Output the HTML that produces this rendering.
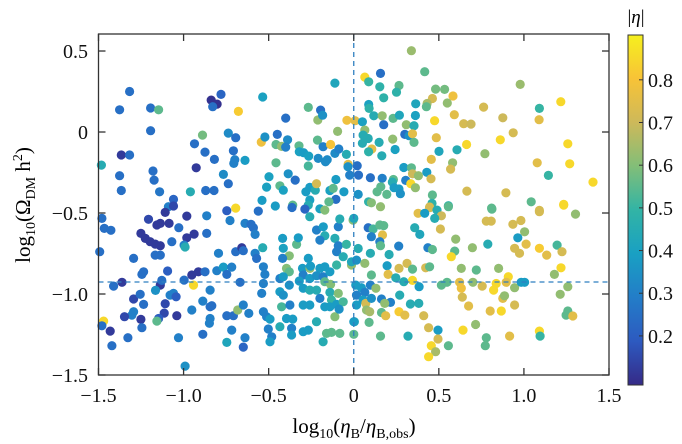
<!DOCTYPE html>
<html><head><meta charset="utf-8"><style>
html,body{margin:0;padding:0;background:#fff;}
svg{display:block;font-family:"Liberation Serif",serif;}
</style></head><body>
<svg id="chart" width="682" height="444" viewBox="0 0 682 444" xmlns="http://www.w3.org/2000/svg">
<defs>
<linearGradient id="parula" x1="0" y1="1" x2="0" y2="0">
<stop offset="0" stop-color="#352a87"/><stop offset="0.125" stop-color="#2d5ac0"/>
<stop offset="0.25" stop-color="#237dc8"/><stop offset="0.375" stop-color="#19a0c3"/>
<stop offset="0.5" stop-color="#32b4a5"/><stop offset="0.625" stop-color="#82be78"/>
<stop offset="0.75" stop-color="#cdb95a"/><stop offset="0.875" stop-color="#f8c337"/>
<stop offset="1" stop-color="#f5f01e"/>
</linearGradient>
</defs>
<g id="points"></g>
<g id="axes"></g>
<text x="354" y="433" font-size="21" text-anchor="middle">log<tspan font-size="14" dy="5">10</tspan><tspan dy="-5">(</tspan><tspan font-style="italic">η</tspan><tspan font-size="14" dy="5">B</tspan><tspan dy="-5">/</tspan><tspan font-style="italic">η</tspan><tspan font-size="14" dy="5">B,obs</tspan><tspan dy="-5">)</tspan></text>
<text transform="translate(30,205) rotate(-90)" font-size="21" text-anchor="middle">log<tspan font-size="14" dy="5">10</tspan><tspan dy="-5">(Ω</tspan><tspan font-size="14" dy="5">DM</tspan><tspan dy="-5"> h</tspan><tspan font-size="14" dy="-8">2</tspan><tspan dy="8">)</tspan></text>
<g>
<rect x="628" y="35" width="15" height="350" fill="url(#parula)" stroke="#333" stroke-width="1"/>
<g id="cbticks"></g>
<text x="636" y="23" font-size="19" text-anchor="middle">|<tspan font-style="italic">η</tspan>|</text>
</g>
</svg>
<script>
// [log10(etaB/etaB,obs), log10(Omega h^2), |eta|]
const xTicks = [-1.5,-1.0,-0.5,0,0.5,1.0,1.5];
const xTickLabels = ["−1.5","−1.0","−0.5","0","0.5","1.0","1.5"];
const yTicks = [-1.5,-1.0,-0.5,0,0.5];
const yTickLabels = ["−1.5","−1.0","−0.5","0","0.5"];
const cTicks = [0.2,0.3,0.4,0.5,0.6,0.7,0.8];
const cTickLabels = ["0.2","0.3","0.4","0.5","0.6","0.7","0.8"];
const refX = 0;
const refY = -0.926;
const points = [
[-1.317,0.250,.25],[-1.376,0.137,.25],[-1.194,0.148,.25],[-1.147,0.137,.55],[-1.194,0.008,.25],[-1.366,-0.142,.12],[-1.317,-0.142,.25],[-1.483,-0.204,.45],[-1.376,-0.270,.25],[-1.366,-0.361,.25],
[-1.180,-0.241,.25],[-1.173,-0.297,.25],[-1.141,-0.369,.27],[-1.059,-0.416,.22],[-1.089,-0.461,.3],[-1.059,-0.457,.15],[-0.838,0.197,.1],[-0.803,0.172,.1],[-0.780,0.232,.22],[-0.829,0.156,.25],
[-0.678,0.127,.82],[-0.535,0.216,.4],[-0.889,-0.019,.58],[-0.936,-0.073,.25],[-0.874,-0.124,.25],[-0.819,-0.169,.25],[-0.926,-0.221,.12],[-0.960,-0.369,.45],[-0.870,-0.361,.25],[-0.821,-0.361,.25],
[-0.766,-0.262,.33],[-0.737,-0.319,.25],[-0.737,-0.007,.33],[-0.694,-0.035,.25],[-0.707,-0.116,.25],[-0.699,-0.171,.3],[-0.705,-0.194,.3],[-0.639,-0.175,.38],[-0.694,-0.470,.85],[-0.746,-0.486,.2],
[-0.543,-0.062,.78],[-0.522,-0.031,.35],[-0.449,-0.015,.25],[-0.389,-0.048,.33],[-0.400,0.086,.25],[-0.457,-0.077,.55],[-0.424,-0.089,.62],[-0.400,-0.093,.3],[-0.322,-0.085,.55],[-0.320,-0.122,.4],
[-0.295,-0.128,.38],[-0.265,-0.149,.4],[-0.267,0.152,.55],[-0.211,0.074,.62],[-0.195,0.135,.25],[-0.183,0.104,.35],[-0.213,-0.050,.55],[-0.180,-0.091,.3],[-0.136,-0.077,.8],[-0.095,0.004,.62],
[-0.111,0.302,.42],[-0.156,-0.171,.33],[-0.209,-0.163,.33],[-0.166,-0.184,.33],[-0.111,-0.132,.33],[-0.088,-0.105,.3],[-0.043,-0.138,.45],[-0.033,-0.200,.75],[-0.457,-0.190,.55],[-0.498,-0.276,.4],
[-0.385,-0.258,.35],[-0.344,-0.297,.25],[-0.267,-0.210,.52],[-0.434,-0.332,.55],[-0.414,-0.359,.4],[-0.512,-0.340,.4],[-0.281,-0.369,.38],[-0.258,-0.342,.38],[-0.226,-0.359,.45],[-0.219,-0.319,.72],
[-0.140,-0.361,.4],[-0.105,-0.293,.38],[-0.121,-0.348,.55],[-0.058,-0.369,.38],[-0.105,-0.416,.25],[-0.146,-0.431,.55],[-0.258,-0.420,.4],[-0.267,-0.451,.45],[-0.359,-0.451,.55],[-0.363,-0.466,.25],
[-0.461,-0.457,.38],[-0.539,-0.422,.38],[-0.561,-0.488,.25],[-0.287,-0.476,.22],[-0.199,-0.474,.4],[-0.170,-0.482,.6],[-0.040,0.072,.78],[-0.034,-0.214,.35],[-0.024,-0.266,.3],
[0.339,0.502,.63],[0.065,0.339,.85],[0.157,0.362,.25],[0.088,0.310,.5],[0.417,0.372,.55],[0.153,0.279,.48],[0.266,0.287,.55],[0.251,0.246,.48],[0.176,0.211,.48],[0.481,0.265,.58],
[0.534,0.263,.58],[0.583,0.222,.78],[0.462,0.207,.72],[0.431,0.176,.65],[0.550,0.179,.62],[0.088,0.170,.4],[0.090,0.146,.48],[0.364,0.174,.42],[0.427,0.156,.55],[0.978,0.294,.63],
[0.763,0.154,.72],[1.091,0.146,.5],[1.217,0.187,.85],[0.876,0.088,.7],[1.089,0.076,.75],[0.008,0.070,.75],[0.051,0.063,.4],[0.118,0.100,.45],[0.167,0.100,.62],[0.231,0.084,.55],
[0.268,0.104,.42],[0.362,0.102,.4],[0.176,0.045,.25],[0.065,0.012,.62],[0.309,0.045,.62],[0.354,0.039,.45],[0.300,-0.015,.25],[0.325,-0.023,.35],[0.345,-0.011,.75],[0.354,-0.064,.55],
[0.475,0.070,.85],[0.591,0.107,.75],[0.646,0.051,.72],[0.689,0.049,.7],[0.937,-0.005,.72],[0.485,-0.035,.75],[0.663,-0.077,.85],[0.861,-0.048,.85],[1.258,-0.073,.85],[0.229,-0.044,.62],
[0.149,-0.064,.45],[0.051,-0.070,.45],[0.085,-0.040,.45],[0.055,-0.019,.45],[0.106,-0.105,.75],[0.087,-0.122,.48],[0.243,-0.108,.4],[0.165,-0.147,.45],[0.501,-0.120,.42],[0.607,-0.110,.45],
[0.771,-0.134,.62],[0.456,-0.169,.75],[0.581,-0.190,.62],[0.569,-0.229,.72],[1.078,-0.190,.75],[1.269,-0.196,.85],[1.144,-0.268,.5],[1.406,-0.309,.85],[0.020,-0.208,.25],[0.028,-0.266,.25],
[0.098,-0.282,.25],[0.167,-0.286,.3],[0.233,-0.293,.55],[0.227,-0.309,.45],[0.294,-0.219,.38],[0.339,-0.221,.55],[0.345,-0.258,.7],[0.380,-0.270,.62],[0.429,-0.249,.38],[0.454,-0.289,.72],
[0.305,-0.299,.3],[0.335,-0.319,.85],[0.362,-0.344,.62],[0.237,-0.344,.38],[0.266,-0.352,.38],[0.274,-0.381,.35],[0.137,-0.369,.55],[0.159,-0.338,.55],[0.194,-0.385,.55],[0.026,-0.385,.35],
[0.087,-0.431,.48],[0.104,-0.437,.6],[0.157,-0.461,.62],[0.462,-0.389,.55],[0.460,-0.441,.48],[0.446,-0.463,.72],[0.556,-0.455,.48],[0.665,-0.365,.72],[0.894,-0.375,.72],[1.043,-0.431,.55],
[1.234,-0.447,.85],[0.810,-0.470,.55],[1.091,-0.484,.72],
[-1.480,-0.533,.25],[-1.466,-0.595,.25],[-1.427,-0.607,.25],[-1.493,-0.739,.25],[-1.206,-0.539,.15],[-1.157,-0.574,.12],[-1.137,-0.564,.12],[-1.085,-0.564,.12],[-1.108,-0.496,.12],[-0.981,-0.519,.12],
[-1.028,-0.591,.25],[-1.251,-0.626,.12],[-1.225,-0.657,.12],[-1.196,-0.677,.12],[-1.167,-0.692,.12],[-1.137,-0.702,.12],[-1.069,-0.677,.25],[-0.981,-0.653,.12],[-0.938,-0.630,.12],[-0.864,-0.626,.25],
[-0.864,-0.517,.3],[-0.727,-0.546,.3],[-0.997,-0.698,.3],[-0.991,-0.710,.45],[-1.167,-0.760,.25],[-1.137,-0.760,.25],[-1.294,-0.780,.25],[-0.795,-0.749,.3],[-0.694,-0.739,.25],[-0.658,-0.714,.12],
[-0.649,-0.733,.25],[-0.639,-0.564,.3],[-0.604,-0.570,.25],[-0.590,-0.591,.25],[-0.580,-0.632,.3],[-0.535,-0.714,.45],[-0.580,-0.749,.3],[-0.571,-0.780,.25],[-1.094,-0.858,.2],[-1.245,-0.879,.25],
[-1.235,-0.863,.25],[-1.362,-0.928,.12],[-1.411,-0.951,.25],[-1.137,-0.945,.12],[-1.128,-0.916,.25],[-1.165,-0.978,.35],[-0.997,-0.914,.25],[-0.952,-0.883,.12],[-0.913,-0.863,.12],[-0.874,-0.863,.25],
[-0.942,-0.945,.85],[-0.805,-0.856,.3],[-0.766,-0.834,.38],[-0.746,-0.879,.25],[-0.717,-0.834,.3],[-0.668,-0.928,.25],[-0.531,-0.832,.3],[-0.522,-0.879,.3],[-0.531,-0.935,.3],[-0.844,-0.976,.3],
[-1.294,-1.031,.15],[-1.255,-1.002,.25],[-1.235,-1.064,.25],[-1.079,-1.007,.3],[-1.059,-0.996,.3],[-1.044,-1.017,.2],[-1.108,-1.060,.15],[-1.114,-1.118,.15],[-1.147,-1.151,.2],[-1.157,-1.167,.55],
[-1.040,-1.134,.12],[-1.294,-1.109,.3],[-1.304,-1.130,.3],[-1.347,-1.140,.15],[-1.251,-1.157,.12],[-1.245,-1.208,.25],[-1.470,-1.167,.85],[-1.480,-1.196,.25],[-1.431,-1.229,.12],[-1.421,-1.319,.25],
[-1.327,-1.270,.25],[-1.030,-1.270,.3],[-0.991,-1.445,.35],[-0.952,-1.099,.3],[-0.887,-1.044,.3],[-0.844,-1.079,.25],[-0.844,-1.151,.3],[-0.848,-1.181,.3],[-0.834,-1.072,.25],[-0.887,-1.249,.25],
[-0.746,-1.134,.25],[-0.707,-1.134,.25],[-0.682,-1.099,.62],[-0.649,-1.068,.3],[-0.617,-1.120,.3],[-0.717,-1.223,.3],[-0.746,-1.299,.42],[-0.649,-1.328,.22],[-0.639,-1.270,.3],[-0.541,-0.996,.3],
[-0.531,-1.109,.3],[-0.512,-1.140,.3],[-0.492,-1.155,.38],[-0.502,-1.216,.3],[-0.482,-1.264,.3],[-0.492,-1.295,.38],[-0.418,-0.657,.38],[-0.414,-0.718,.4],[-0.379,-0.764,.6],[-0.336,-0.694,.55],
[-0.326,-0.653,.38],[-0.418,-0.780,.3],[-0.395,-0.842,.6],[-0.379,-0.863,.55],[-0.434,-0.904,.3],[-0.414,-0.893,.38],[-0.379,-0.945,.35],[-0.434,-0.986,.38],[-0.414,-1.007,.35],[-0.424,-1.079,.52],
[-0.375,-1.068,.3],[-0.301,-0.842,.38],[-0.257,-0.842,.62],[-0.297,-0.883,.3],[-0.320,-0.920,.38],[-0.267,-0.780,.38],[-0.254,-0.828,.38],[-0.219,-0.605,.3],[-0.179,-0.585,.38],[-0.170,-0.640,.45],
[-0.258,-0.523,.45],[-0.199,-0.667,.3],[-0.111,-0.657,.45],[-0.091,-0.585,.3],[-0.082,-0.537,.45],[-0.091,-0.702,.3],[-0.101,-0.739,.3],[-0.062,-0.770,.45],[-0.043,-0.694,.5],[-0.258,-0.904,.38],
[-0.199,-0.842,.38],[-0.170,-0.832,.38],[-0.219,-0.887,.35],[-0.180,-0.893,.3],[-0.140,-0.863,.38],[-0.101,-0.821,.5],[-0.170,-0.924,.55],[-0.136,-0.941,.6],[-0.297,-0.965,.38],[-0.258,-0.976,.45],
[-0.219,-0.976,.45],[-0.199,-1.027,.3],[-0.140,-0.990,.45],[-0.091,-0.996,.6],[-0.131,-1.037,.5],[-0.101,-1.064,.38],[-0.062,-1.048,.52],[-0.297,-1.068,.38],[-0.258,-1.068,.38],[-0.170,-1.079,.38],
[-0.140,-1.079,.38],[-0.111,-1.140,.6],[-0.086,-1.093,.35],[-0.395,-1.151,.38],[-0.359,-1.155,.38],[-0.434,-1.202,.45],[-0.365,-1.212,.3],[-0.365,-1.253,.38],[-0.297,-1.233,.38],[-0.267,-1.223,.38],
[-0.219,-1.171,.45],[-0.160,-1.243,.55],[-0.131,-1.237,.55],[-0.082,-1.243,.55],[-0.180,-1.295,.45],[-0.013,-0.821,.62],[-0.004,-0.544,.6],[0.004,-1.171,.45],
[0.000,-0.533,.42],[0.378,-0.502,.75],[0.446,-0.467,.72],[0.489,-0.482,.45],[0.515,-0.517,.7],[0.476,-0.533,.45],[0.417,-0.502,.38],[0.556,-0.461,.55],[0.812,-0.476,.55],[1.091,-0.492,.72],
[1.234,-0.451,.85],[1.303,-0.507,.62],[0.085,-0.591,.25],[0.114,-0.599,.52],[0.153,-0.574,.55],[0.176,-0.578,.55],[0.104,-0.646,.3],[0.169,-0.636,.75],[0.153,-0.677,.3],[0.157,-0.702,.55],
[0.026,-0.719,.45],[0.098,-0.749,.45],[0.208,-0.756,.45],[0.264,-0.704,.3],[0.358,-0.591,.45],[0.388,-0.632,.42],[0.509,-0.599,.72],[0.436,-0.714,.3],[0.462,-0.725,.55],[0.779,-0.550,.72],
[0.808,-0.550,.72],[0.935,-0.570,.72],[0.982,-0.546,.72],[1.004,-0.616,.62],[0.964,-0.653,.38],[1.013,-0.692,.75],[0.945,-0.718,.72],[0.974,-0.749,.72],[0.788,-0.692,.45],[0.697,-0.714,.62],
[0.599,-0.661,.62],[0.593,-0.735,.55],[0.573,-0.770,.85],[1.091,-0.718,.82],[1.134,-0.760,.75],[1.195,-0.698,.52],[1.224,-0.739,.72],[1.218,-0.838,.85],[1.179,-0.879,.62],[-0.013,-0.801,.42],
[0.016,-0.791,.35],[0.065,-0.811,.62],[0.196,-0.825,.38],[0.266,-0.842,.72],[0.313,-0.811,.72],[0.345,-0.846,.55],[0.423,-0.838,.72],[0.446,-0.832,.55],[0.104,-0.883,.55],[0.202,-0.879,.75],
[0.247,-0.900,.45],[0.294,-0.924,.45],[0.345,-0.916,.85],[0.384,-0.955,.38],[0.515,-0.945,.55],[0.548,-0.928,.55],[0.632,-0.842,.62],[0.720,-0.852,.55],[0.851,-0.842,.62],[0.908,-0.893,.85],
[0.896,-0.928,.75],[0.945,-0.961,.62],[0.984,-0.928,.38],[1.004,-0.928,.38],[0.622,-0.928,.75],[0.632,-0.965,.78],[0.700,-0.928,.62],[0.755,-0.951,.72],[0.837,-0.935,.85],[0.822,-0.976,.85],
[0.638,-1.019,.72],[0.675,-1.074,.75],[0.802,-1.105,.75],[0.867,-1.105,.85],[0.876,-1.027,.75],[0.886,-1.011,.62],[0.945,-1.068,.72],[1.258,-0.955,.62],[1.213,-1.002,.62],[1.258,-1.105,.55],
[1.248,-1.130,.55],[1.287,-1.136,.75],[0.012,-0.945,.38],[0.045,-0.961,.38],[0.065,-0.990,.3],[0.098,-0.945,.3],[0.130,-0.965,.62],[0.016,-1.007,.3],[0.055,-1.037,.38],[0.071,-1.058,.72],
[0.104,-1.027,.35],[0.163,-1.031,.3],[0.216,-1.052,.3],[0.270,-1.007,.45],[0.182,-1.058,.62],[0.016,-1.068,.38],[0.075,-1.099,.62],[0.094,-1.109,.65],[0.163,-1.114,.55],[0.188,-1.134,.75],
[0.266,-1.109,.82],[0.300,-1.130,.75],[0.333,-1.062,.45],[0.382,-1.058,.45],[0.411,-1.134,.72],[0.090,-1.175,.55],[0.000,-1.171,.38],[0.000,-1.249,.55],[0.157,-1.260,.55],[0.319,-1.260,.45],
[0.440,-1.208,.72],[0.495,-1.223,.38],[0.495,-1.278,.72],[0.456,-1.319,.85],[0.481,-1.356,.65],[0.440,-1.387,.85],[0.556,-1.319,.55],[0.642,-1.223,.85],[0.716,-1.188,.62],[0.779,-1.270,.55],
[0.773,-1.319,.55],[0.916,-1.260,.75],[1.091,-1.229,.85],[1.095,-1.260,.5]
];
const NS = "http://www.w3.org/2000/svg";
const L = 98.5, R = 609, T = 34, B = 375;
const XMIN = -1.5, XMAX = 1.5, YMIN = -1.5, YMAX = 0.605, CMIN = 0.085, CMAX = 0.905;
function sx(v){ return L + (v - XMIN) / (XMAX - XMIN) * (R - L); }
function sy(v){ return B - (v - YMIN) / (YMAX - YMIN) * (B - T); }
function sc(v){ return 385 - (v - CMIN) / (CMAX - CMIN) * 350; }
const stops = [[53,42,135],[45,90,192],[35,125,200],[25,160,195],[50,180,165],[130,190,120],[205,185,90],[248,195,55],[245,240,30]];
function parula(v){
  let t = Math.max(0, Math.min(1, (v - CMIN) / (CMAX - CMIN))) * (stops.length - 1);
  let i = Math.min(stops.length - 2, Math.floor(t)), f = t - i;
  const c = stops[i].map((a, k) => Math.round(a + (stops[i+1][k] - a) * f));
  return "rgb(" + c.join(",") + ")";
}
function mk(tag, attrs, parent){ const e = document.createElementNS(NS, tag); for (const k in attrs) e.setAttribute(k, attrs[k]); parent.appendChild(e); return e; }
const pg = document.getElementById("points");
points.forEach(p => {
  const c = mk("circle", {cx: sx(p[0]).toFixed(1), cy: sy(p[1]).toFixed(1), r: 4.6, fill: parula(p[2])}, pg);
  
  
});
const ax = document.getElementById("axes");
const vl = mk("line", {x1: sx(refX), x2: sx(refX), y1: T, y2: B, stroke: "#2f7fc0", "stroke-width": 1.3, "stroke-dasharray": "5,4"}, ax);


const hl = mk("line", {x1: L, x2: R, y1: sy(refY), y2: sy(refY), stroke: "#2f7fc0", "stroke-width": 1.3, "stroke-dasharray": "5,4"}, ax);


const fr = mk("rect", {x: L, y: T, width: R - L, height: B - T, fill: "none", stroke: "#333", "stroke-width": 1.3}, ax);


xTicks.forEach((v, i) => {
  const x = sx(v);
  mk("line", {x1: x, x2: x, y1: B, y2: B - 7, stroke: "#333", "stroke-width": 1.3}, ax);
  mk("line", {x1: x, x2: x, y1: T, y2: T + 7, stroke: "#333", "stroke-width": 1.3}, ax);
  const t = mk("text", {x: x, y: 402, "font-size": 20, "text-anchor": "middle", fill: "#111"}, ax);
  t.textContent = xTickLabels[i];
  
  
});
yTicks.forEach((v, i) => {
  const y = sy(v);
  mk("line", {x1: L, x2: L + 7, y1: y, y2: y, stroke: "#333", "stroke-width": 1.3}, ax);
  mk("line", {x1: R, x2: R - 7, y1: y, y2: y, stroke: "#333", "stroke-width": 1.3}, ax);
  const t = mk("text", {x: 88, y: y + 7, "font-size": 20, "text-anchor": "end", fill: "#111"}, ax);
  t.textContent = yTickLabels[i];
  
  
});
const cb = document.getElementById("cbticks");
cTicks.forEach((v, i) => {
  const y = sc(v);
  mk("line", {x1: 643, x2: 639, y1: y, y2: y, stroke: "#333", "stroke-width": 1}, cb);
  const t = mk("text", {x: 648, y: y + 7, "font-size": 20, fill: "#111"}, cb);
  t.textContent = cTickLabels[i];
  
  
});
</script>
</body></html>
